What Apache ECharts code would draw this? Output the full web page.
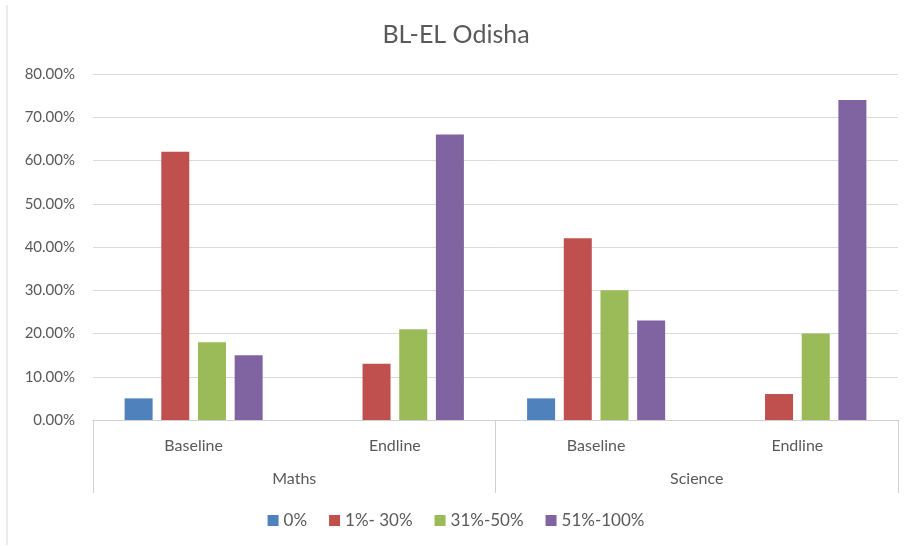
<!DOCTYPE html>
<html>
<head>
<meta charset="utf-8">
<script src="https://cdn.jsdelivr.net/npm/echarts@6/dist/echarts.min.js"></script>
<style>
  html, body { margin: 0; padding: 0; background: #fff; }
  #chart { width: 912px; height: 546px; }
</style>
</head>
<body>
<div id="chart"></div>
<script>
// categories
const phases = ['Baseline', 'Endline', 'Baseline', 'Endline']
const subjects = ['Maths', 'Science']
const seriesNames = ['0%', '1%- 30%', '31%-50%', '51%-100%']

// share of students per score band (fraction)
const band0 = [0.05, 0, 0.05, 0]
const band1to30 = [0.62, 0.13, 0.42, 0.06]
const band31to50 = [0.18, 0.21, 0.30, 0.20]
const band51to100 = [0.15, 0.66, 0.23, 0.74]

const colors = ['#4f81bd', '#c0504d', '#9bbb59', '#8064a2']
const font = 'Lato, "Open Sans", sans-serif'

const makeBar = (name, data) => ({
  name: name,
  type: 'bar',
  xAxisIndex: 0,
  data: data,
  barWidth: 28,
  barGap: '31%'
})

const chart = echarts.init(document.getElementById('chart'))
chart.setOption({
  color: colors,
  animation: false,
  textStyle: { fontFamily: font },
  title: {
    text: 'BL-EL Odisha',
    left: 'center',
    top: 17,
    textStyle: { fontSize: 25, fontWeight: 'normal', color: '#595959', fontFamily: font }
  },
  legend: {
    data: seriesNames,
    bottom: 12,
    left: 'center',
    icon: 'rect',
    itemWidth: 11,
    itemHeight: 11,
    itemGap: 22,
    textStyle: { fontSize: 17, color: '#595959', fontFamily: font }
  },
  // light frame line down the left edge, like the chart border in the source
  graphic: [{
    type: 'line',
    shape: { x1: 7, y1: 5, x2: 7, y2: 545 },
    style: { stroke: '#d9d9d9', lineWidth: 1 }
  }],
  grid: { left: 93, right: 14, top: 74, bottom: 126 },
  xAxis: [
    {
      type: 'category',
      data: phases,
      axisLine: { lineStyle: { color: '#d0d0d0' } },
      axisTick: { show: false },
      axisLabel: { color: '#595959', fontSize: 16, margin: 18, fontFamily: font }
    },
    {
      type: 'category',
      data: subjects,
      position: 'bottom',
      axisLine: { show: false },
      axisTick: { show: true, interval: 0, length: 73, lineStyle: { color: '#d0d0d0' } },
      axisLabel: { color: '#595959', fontSize: 16, margin: 51, fontFamily: font }
    }
  ],
  yAxis: {
    type: 'value',
    min: 0,
    max: 0.8,
    interval: 0.1,
    axisLine: { show: false },
    axisTick: { show: false },
    splitLine: { lineStyle: { color: '#d9d9d9' } },
    axisLabel: {
      color: '#595959',
      fontSize: 15,
      margin: 18,
      fontFamily: font,
      formatter: v => (v * 100).toFixed(2) + '%'
    }
  },
  series: [
    makeBar(seriesNames[0], band0),
    makeBar(seriesNames[1], band1to30),
    makeBar(seriesNames[2], band31to50),
    makeBar(seriesNames[3], band51to100)
  ]
})
</script>
</body>
</html>
